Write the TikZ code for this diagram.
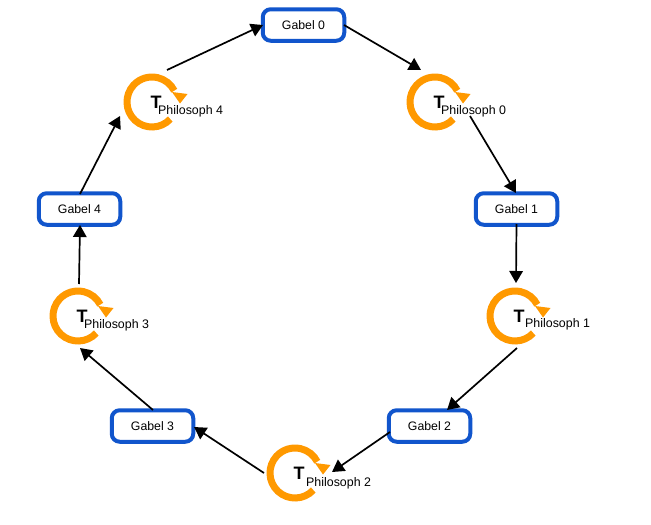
\documentclass[tikz,border=0pt]{standalone}
\usepackage{fontspec}
\setmainfont{Liberation Sans}
\usetikzlibrary{arrows.meta}
\definecolor{gabelblue}{HTML}{1155CC}
\definecolor{threadorange}{HTML}{FF9900}
\tikzset{
  x=1pt,y=-1pt,
  gabel/.style={draw=gabelblue,line width=4pt,rounded corners=8pt,fill=white,minimum width=81.5pt,minimum height=31.5pt,inner sep=0pt,font=\fontsize{12.3}{14}\selectfont},
  flow/.style={draw=black,line width=1.7pt,-{Triangle[length=12pt,width=13.5pt]},shorten >=0pt},
  hub/.style={inner sep=0pt,minimum size=1pt},
  tletter/.style={inner sep=0pt,font=\fontsize{18}{20}\selectfont\bfseries},
  plabel/.style={inner sep=0pt,anchor=west,font=\fontsize{12.4}{14}\selectfont},
  ring/.style={draw=threadorange,line width=7pt},
  ringtip/.style={fill=threadorange,draw=none},
  thread/.pic={
    \draw[ring] (-43:25pt) arc[start angle=-43,end angle=-333,radius=25pt];
    \fill[ringtip] (20,-10) -- (35.5,-8) -- (28,1.5) -- cycle;
  }
}
\begin{document}
\begin{tikzpicture}
\useasboundingbox (0,0) rectangle (651,525);
\fill[white] (0,0) rectangle (651,525);

\node[gabel] (g0) at (303.5,25) {Gabel 0};
\node[gabel] (g1) at (516.5,209) {Gabel 1};
\node[gabel] (g2) at (429.5,426) {Gabel 2};
\node[gabel] (g3) at (152.5,426) {Gabel 3};
\node[gabel] (g4) at (79.5,209) {Gabel 4};

\node[hub] (p0) at (435,102) {};
\node[hub] (p1) at (515,316) {};
\node[hub] (p2) at (295,473) {};
\node[hub] (p3) at (78,316) {};
\node[hub] (p4) at (152,102) {};

\pic at (p0) {thread};
\pic at (p1) {thread};
\pic at (p2) {thread};
\pic at (p3) {thread};
\pic at (p4) {thread};

\node[tletter] (t0) at (439,102.5) {T};
\node[tletter] (t1) at (519,316.5) {T};
\node[tletter] (t2) at (299,473.5) {T};
\node[tletter] (t3) at (82,316.5) {T};
\node[tletter] (t4) at (156,102.5) {T};

\node[plabel] (l0) at (441,111.5) {Philosoph 0};
\node[plabel] (l1) at (525,324.5) {Philosoph 1};
\node[plabel] (l2) at (306,483) {Philosoph 2};
\node[plabel] (l3) at (84,325) {Philosoph 3};
\node[plabel] (l4) at (158,111.5) {Philosoph 4};

\draw[flow] ([shift={(40.5,0)}]g0.center) -- ([shift={(-14,-32)}]p0.center);
\draw[flow] ([shift={(35,14)}]p0.center) -- ([shift={(-0.5,-16)}]g1.center);
\draw[flow] ([shift={(0,15)}]g1.center) -- ([shift={(1,-33)}]p1.center);
\draw[flow] ([shift={(2,32)}]p1.center) -- ([shift={(17.5,-16)}]g2.center);
\draw[flow] ([shift={(-39.5,6)}]g2.center) -- ([shift={(37,-1)}]p2.center);
\draw[flow] ([shift={(-31,0)}]p2.center) -- ([shift={(41.5,1)}]g3.center);
\draw[flow] ([shift={(0.5,-16)}]g3.center) -- ([shift={(2,32)}]p3.center);
\draw[flow] ([shift={(1,-32)}]p3.center) -- ([shift={(0.5,16)}]g4.center);
\draw[flow] ([shift={(0.5,-15)}]g4.center) -- ([shift={(-32,14)}]p4.center);
\draw[flow] ([shift={(15,-32)}]p4.center) -- ([shift={(-40.5,0)}]g0.center);
\end{tikzpicture}
\end{document}
